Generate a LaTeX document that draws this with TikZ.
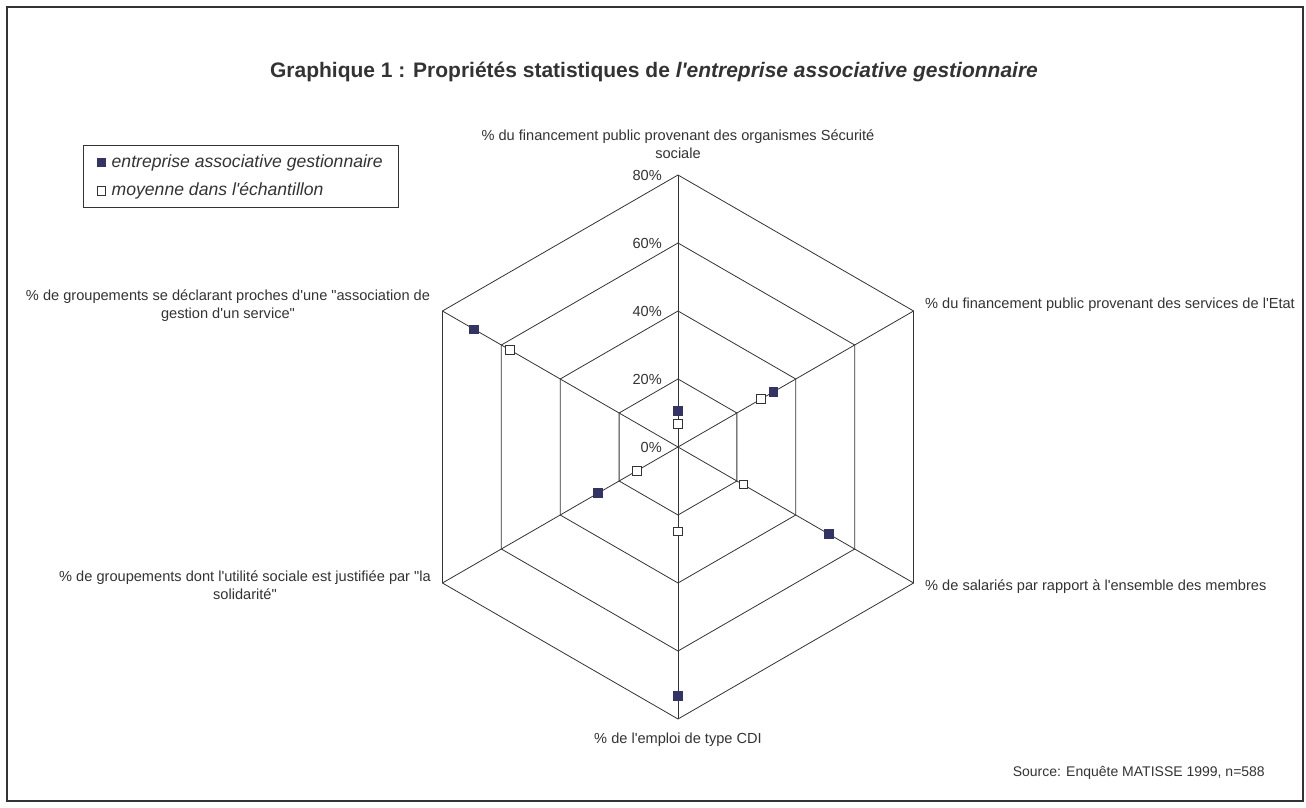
\documentclass[tikz,border=0pt]{standalone}
\usepackage{fontspec}
\setmainfont{Liberation Sans}[Ligatures=TeXOff]
\usepackage{xcolor}
\usetikzlibrary{calc,positioning}
\definecolor{gridgray}{HTML}{333333}
\definecolor{navy}{HTML}{333366}
\tikzset{
	grid line/.style={draw=gridgray,line width=0.8pt},
	axis label/.style={font=\fontsize{14.6}{17.5}\selectfont,text=gridgray,align=center,inner sep=0pt},
	level label/.style={font=\fontsize{14.6}{17}\selectfont,text=gridgray,anchor=east,inner sep=0pt},
	legend text/.style={font=\itshape\fontsize{17.6}{20}\selectfont,text=gridgray,inner sep=0pt},
	gest mark/.style={rectangle,fill=navy,minimum size=9.5pt,inner sep=0pt},
	moy mark/.style={rectangle,draw=gridgray,fill=white,line width=1pt,minimum size=8.5pt,inner sep=0pt},
}

\begin{document}
\begin{tikzpicture}[x=1pt,y=1pt]
		\useasboundingbox (0,0) rectangle (1306,807);
		\draw[gridgray,line width=1.5pt] (7,6) rectangle (1303,800);
		\node[font=\bfseries\fontsize{21}{24}\selectfont,text=gridgray] (titre) at (654,735) {Graphique 1 : Propriétés statistiques de \textit{l'entreprise associative gestionnaire}};
		% legende
		\draw[gridgray,line width=0.8pt] (83,600) rectangle (398,662);
		\node[gest mark] (leg g) at (101.5,644.5) {};
		\node[moy mark] (leg m) at (101.5,616) {};
		\node[legend text,anchor=west] (leg g txt) at (111.5,644.5) {entreprise associative gestionnaire};
		\node[legend text,anchor=west] (leg m txt) at (111.5,616) {moyenne dans l'échantillon};
		% radar
		\begin{scope}[shift={(678,360)}]
			\foreach \a in {90,30,-30,-90,-150,150}
				\draw[grid line] (0,0) -- (\a:272);
			\foreach \r in {68,136,204,272}
				\draw[grid line] (90:\r) -- (30:\r) -- (-30:\r) -- (-90:\r) -- (-150:\r) -- (150:\r) -- cycle;
			\node[level label] (n0) at (-16,0) {0\%};
			\node[level label] (n20) at (-16,68) {20\%};
			\node[level label] (n40) at (-16,136) {40\%};
			\node[level label] (n60) at (-16,204) {60\%};
			\node[level label] (n80) at (-16,272) {80\%};
			% moyenne
			\node[moy mark] (m1) at (90:{6.8*3.4}) {};
			\node[moy mark] (m2) at (30:{28.2*3.4}) {};
			\node[moy mark] (m3) at (-30:{22.2*3.4}) {};
			\node[moy mark] (m4) at (-90:{24.9*3.4}) {};
			\node[moy mark] (m5) at (-150:{14*3.4}) {};
			\node[moy mark] (m6) at (150:{57*3.4}) {};
			% entreprise associative gestionnaire
			\node[gest mark] (g1) at (90:{10.6*3.4}) {};
			\node[gest mark] (g2) at (30:{32.4*3.4}) {};
			\node[gest mark] (g3) at (-30:{51.3*3.4}) {};
			\node[gest mark] (g4) at (-90:{73.2*3.4}) {};
			\node[gest mark] (g5) at (-150:{27.2*3.4}) {};
			\node[gest mark] (g6) at (150:{69.2*3.4}) {};
		\end{scope}
		% axes
		\node[axis label] (secu) at (678,663) {\% du financement public provenant des organismes Sécurité\\sociale};
		\node[axis label,anchor=west] (etat) at (925,502) {\% du financement public provenant des services de l'Etat};
		\node[axis label,anchor=west] (salaries) at (925,220) {\% de salariés par rapport à l'ensemble des membres};
		\node[axis label] (cdi) at (678,67) {\% de l'emploi de type CDI};
		\node[axis label] (solidarite) at (245,222) {\% de groupements dont l'utilité sociale est justifiée par "la\\solidarité"};
		\node[axis label] (gestion) at (228,501.5) {\% de groupements se déclarant proches d'une "association de\\gestion d'un service"};
		\node[font=\fontsize{14}{16}\selectfont,text=gridgray,anchor=east,inner sep=0pt] (source) at (1265,34) {Source: Enquête MATISSE 1999, n=588};
	\end{tikzpicture}
\end{document}
